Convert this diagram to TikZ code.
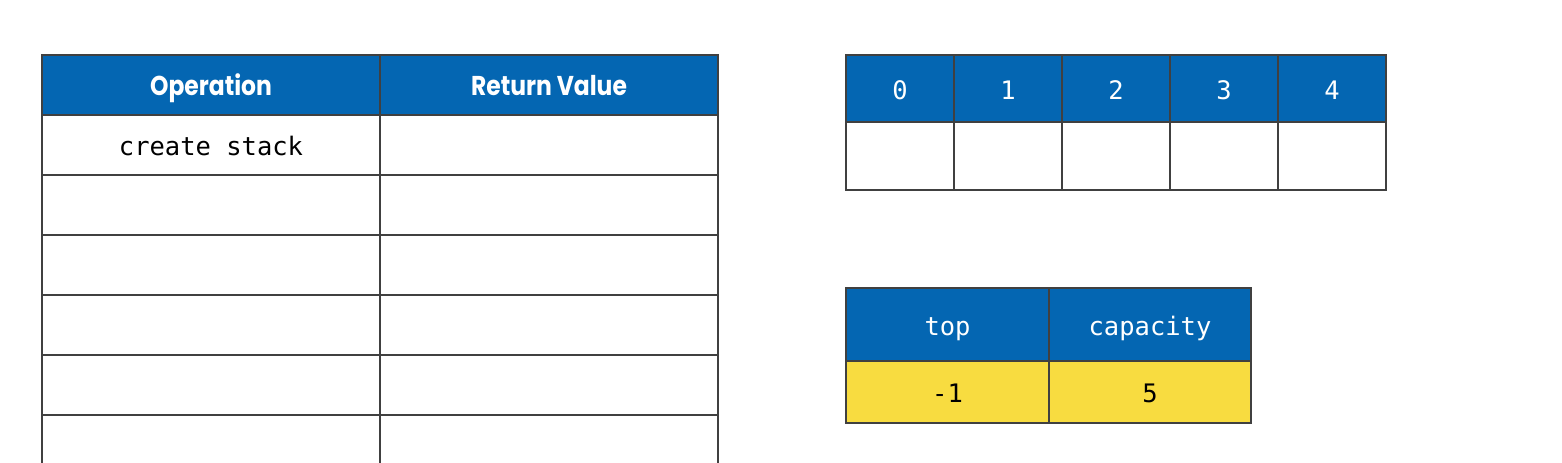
\documentclass[tikz,border=0pt]{standalone}
\usepackage{fontspec}
\setmainfont{Poppins}
\setmonofont{DejaVu Sans Mono}
\definecolor{stackblue}{HTML}{0466B2}
\definecolor{stackyellow}{HTML}{F8DC40}
\tikzset{
  cell/.style={draw=black!75,line width=0.8pt,inner sep=0pt,shape=rectangle},
  headcell/.style={cell,fill=stackblue,text=white},
  codetext/.style={font=\ttfamily\fontsize{14.5}{16}\selectfont,text height=12pt,text depth=0pt},
  titletext/.style={font=\fontsize{15.5}{18}\selectfont\bfseries,text height=12pt,text depth=0pt},
}
\newcommand{\titlebox}[1]{\scalebox{0.86}[1]{#1}}
\begin{document}
\begin{tikzpicture}[x=0.02cm,y=-0.02cm]
\useasboundingbox (0,0) rectangle (1562,463);
\clip (0,0) rectangle (1562,463);
% operation table
\node[headcell,titletext,minimum width=6.76cm,minimum height=1.2cm](op0) at (211,85){\titlebox{Operation}};
\node[headcell,titletext,minimum width=6.76cm,minimum height=1.2cm](rv0) at (549,85){\titlebox{Return Value}};
\node[cell,codetext,minimum width=6.76cm,minimum height=1.2cm](op1) at (211,145){create stack};
\node[cell,minimum width=6.76cm,minimum height=1.2cm](rv1) at (549,145){};
\foreach \i in {2,...,6}{
  \node[cell,minimum width=6.76cm,minimum height=1.2cm](op\i) at (211,85+60*\i){};
  \node[cell,minimum width=6.76cm,minimum height=1.2cm](rv\i) at (549,85+60*\i){};
}
% array
\foreach \i in {0,...,4}{
  \node[headcell,codetext,minimum width=2.16cm,minimum height=1.34cm](idx\i) at (900+108*\i,88.5){\i};
  \node[cell,minimum width=2.16cm,minimum height=1.36cm](arr\i) at (900+108*\i,156){};
}
% fields
\node[headcell,codetext,minimum width=4.06cm,minimum height=1.46cm](top) at (947.5,324.5){top};
\node[headcell,codetext,minimum width=4.04cm,minimum height=1.46cm](cap) at (1150,324.5){capacity};
\node[cell,codetext,fill=stackyellow,minimum width=4.06cm,minimum height=1.24cm](topval) at (947.5,392){-1};
\node[cell,codetext,fill=stackyellow,minimum width=4.04cm,minimum height=1.24cm](capval) at (1150,392){5};
\end{tikzpicture}
\end{document}
